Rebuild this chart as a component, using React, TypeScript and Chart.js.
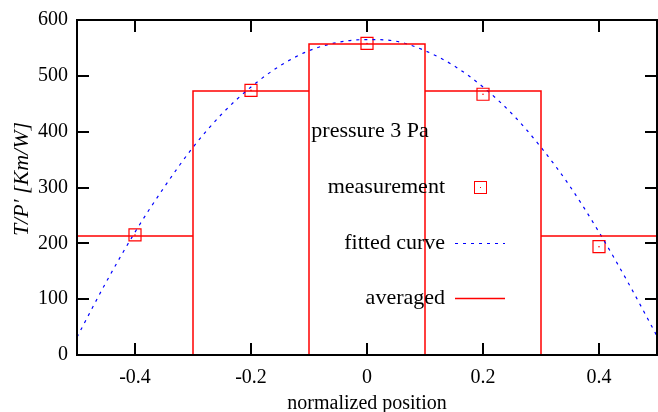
import { useEffect, useRef } from 'react';
import { Chart, registerables } from 'chart.js';

Chart.register(...registerables);

const FONT = "'Liberation Serif', 'Times New Roman', serif";

// x tick labels and y tick labels
const xTicks = [-0.4, -0.2, 0, 0.2, 0.4];
const yTicks = [0, 100, 200, 300, 400, 500, 600];

// measurement points
const measX = [-0.4, -0.2, 0, 0.2, 0.4];
const measY = [215, 474, 558, 467, 194];

// averaged (boxes): bin edges and values
const binEdges = [-0.5, -0.3, -0.1, 0.1, 0.3, 0.5];
const averaged = [213, 473, 557, 473, 213];

// fitted curve
const fitX = [-0.5, -0.45, -0.4, -0.35, -0.3, -0.25, -0.2, -0.15, -0.1, -0.05, 0, 0.05, 0.1, 0.15, 0.2, 0.25, 0.3, 0.35, 0.4, 0.45, 0.5];
const fitY = [32, 130, 220, 300, 372, 432, 480, 518, 545, 560, 565, 562, 545, 518, 480, 432, 372, 302, 220, 130, 34];

const keyTitle = 'pressure 3 Pa';
const xTitle = 'normalized position';
const yTitle = 'T/P\u2032 [Km/W]';

const stepData: { x: number; y: number }[] = [];
averaged.forEach((v, i) => {
  stepData.push({ x: binEdges[i], y: v });
  stepData.push({ x: binEdges[i + 1], y: v });
  if (i < averaged.length - 1) stepData.push({ x: binEdges[i + 1], y: 0 });
});
const measData = measX.map((x, i) => ({ x, y: measY[i] }));
const fitData = fitX.map((x, i) => ({ x, y: fitY[i] }));

const framePlugin = {
  id: 'frame',
  afterDatasetsDraw(chart: any) {
    const { ctx, chartArea } = chart;
    const { left, right, top, bottom } = chartArea;
    const xs = chart.scales.x;
    const ys = chart.scales.y;
    ctx.save();
    ctx.strokeStyle = '#000';
    ctx.lineWidth = 2;
    ctx.beginPath();
    xTicks.forEach((v) => {
      const px = Math.round(xs.getPixelForValue(v));
      ctx.moveTo(px, bottom);
      ctx.lineTo(px, bottom - 12);
      ctx.moveTo(px, top);
      ctx.lineTo(px, top + 12);
    });
    yTicks.forEach((v) => {
      const py = Math.round(ys.getPixelForValue(v));
      ctx.moveTo(left, py);
      ctx.lineTo(left + 12, py);
      ctx.moveTo(right, py);
      ctx.lineTo(right - 12, py);
    });
    ctx.stroke();
    ctx.strokeRect(left, top, right - left, bottom - top);
    // y axis title
    ctx.save();
    ctx.translate(22, 179);
    ctx.rotate(-Math.PI / 2);
    ctx.font = `italic 22px ${FONT}`;
    ctx.fillStyle = '#000';
    ctx.textAlign = 'center';
    ctx.textBaseline = 'middle';
    ctx.fillText(yTitle, 0, 0);
    ctx.restore();
    ctx.restore();
  },
};

const keyPlugin = {
  id: 'key',
  afterDatasetsDraw(chart: any) {
    const { ctx } = chart;
    const ds = chart.data.datasets;
    ctx.save();
    ctx.font = `22px ${FONT}`;
    ctx.fillStyle = '#000';
    ctx.textBaseline = 'middle';
    ctx.textAlign = 'center';
    ctx.fillText(keyTitle, 370, 131);
    ctx.textAlign = 'right';
    const textX = 445;
    const rows = [
      { label: ds[2].label, y: 187, kind: 'point' },
      { label: ds[1].label, y: 243, kind: 'dash' },
      { label: ds[0].label, y: 298, kind: 'line' },
    ];
    rows.forEach((r) => {
      ctx.fillStyle = '#000';
      ctx.fillText(r.label, textX, r.y);
      if (r.kind === 'point') {
        ctx.strokeStyle = 'rgb(255,0,0)';
        ctx.lineWidth = 1;
        ctx.strokeRect(474.5, r.y - 5.5, 12, 12);
        ctx.fillStyle = 'rgb(255,0,0)';
        ctx.fillRect(480, r.y, 1, 1);
      } else {
        ctx.beginPath();
        ctx.lineWidth = r.kind === 'dash' ? 1 : 1.5;
        if (r.kind === 'dash') {
          ctx.strokeStyle = 'rgb(0,0,255)';
          ctx.setLineDash([3, 5]);
        } else {
          ctx.strokeStyle = 'rgb(255,0,0)';
          ctx.setLineDash([]);
        }
        ctx.moveTo(455, r.y + 0.5);
        ctx.lineTo(505, r.y + 0.5);
        ctx.stroke();
        ctx.setLineDash([]);
      }
    });
    ctx.restore();
  },
};

export default function App() {
  const ref = useRef<HTMLCanvasElement>(null);
  useEffect(() => {
    const canvas = ref.current!;
    const chart = new Chart(canvas, {
      type: 'scatter',
      data: {
        datasets: [
          {
            label: 'averaged',
            data: stepData,
            showLine: true,
            borderColor: 'rgb(255,0,0)',
            borderWidth: 1.5,
            pointRadius: 0,
            fill: false,
          },
          {
            label: 'fitted curve',
            data: fitData,
            showLine: true,
            borderColor: 'rgb(0,0,255)',
            borderWidth: 1.2,
            borderDash: [3, 5],
            pointRadius: 0,
            tension: 0.4,
            cubicInterpolationMode: 'monotone',
            fill: false,
          },
          {
            label: 'measurement',
            data: measData,
            pointStyle: 'rect',
            pointRadius: 8.5,
            borderColor: 'rgb(255,0,0)',
            backgroundColor: 'rgba(0,0,0,0)',
            borderWidth: 1.2,
          },
          {
            label: 'centre',
            data: measData,
            pointStyle: 'circle',
            pointRadius: 0.8,
            borderWidth: 0,
            backgroundColor: 'rgb(255,0,0)',
          },
        ],
      } as any,
      options: {
        animation: false,
        responsive: false,
        events: [],
        layout: { autoPadding: false, padding: { top: 20, right: 1, left: 0, bottom: 0 } },
        plugins: { legend: { display: false }, tooltip: { enabled: false } },
        scales: {
          x: {
            type: 'linear',
            min: -0.5,
            max: 0.5,
            afterBuildTicks: (s: any) => {
              s.ticks = xTicks.map((v) => ({ value: v }));
            },
            afterFit: (s: any) => {
              s.height = 57;
              s.paddingLeft = 0;
              s.paddingRight = 0;
            },
            grid: { display: false, drawTicks: false },
            border: { display: false },
            ticks: {
              color: '#000',
              font: { family: FONT, size: 20 },
              padding: 11,
              maxRotation: 0,
              autoSkip: false,
              callback: (v: any) => String(v),
            },
            title: {
              display: true,
              text: xTitle,
              color: '#000',
              font: { family: FONT, size: 20 },
              padding: { top: 0, bottom: -4 },
            },
          },
          y: {
            type: 'linear',
            min: 0,
            max: 600,
            afterBuildTicks: (s: any) => {
              s.ticks = yTicks.map((v) => ({ value: v }));
            },
            afterFit: (s: any) => {
              s.width = 77;
              s.paddingTop = 0;
              s.paddingBottom = 0;
            },
            grid: { display: false, drawTicks: false },
            border: { display: false },
            ticks: {
              color: '#000',
              font: { family: FONT, size: 20 },
              padding: 9,
              autoSkip: false,
              callback: (v: any) => String(v),
            },
          },
        },
      } as any,
      plugins: [framePlugin, keyPlugin],
    });
    return () => chart.destroy();
  }, []);
  return (
    <div style={{ position: 'fixed', left: 0, top: 0, width: 658, height: 412, background: '#fff' }}>
      <canvas ref={ref} width={658} height={412} style={{ display: 'block', width: 658, height: 412 }} />
    </div>
  );
}
